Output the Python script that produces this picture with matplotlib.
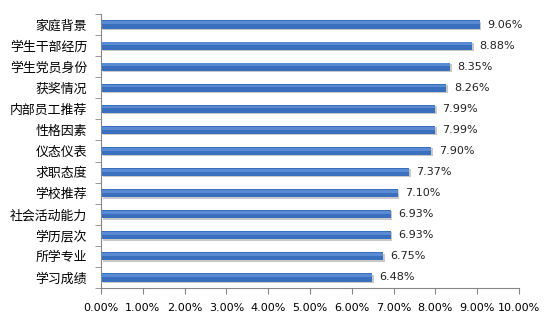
import matplotlib
matplotlib.use("Agg")
import matplotlib.pyplot as plt
from matplotlib.ticker import FuncFormatter

plt.rcParams['font.family'] = ['Noto Sans CJK SC', 'DejaVu Sans']

categories = ["家庭背景", "学生干部经历", "学生党员身份", "获奖情况", "内部员工推荐",
              "性格因素", "仪态仪表", "求职态度", "学校推荐", "社会活动能力",
              "学历层次", "所学专业", "学习成绩"]
values = [9.06, 8.88, 8.35, 8.26, 7.99, 7.99, 7.90, 7.37, 7.10, 6.93, 6.93, 6.75, 6.48]
xticks = [0, 1, 2, 3, 4, 5, 6, 7, 8, 9, 10]

fig = plt.figure(figsize=(5.54, 3.23), dpi=100)
ax = fig.add_axes([101 / 554, 1 - 288 / 323, (519 - 101) / 554, (288 - 14) / 323])

n = len(categories)
ypos = list(range(n))[::-1]
bar_h = 0.39

# soft drop shadow below each bar
ax.barh([y - 0.06 for y in ypos], values, height=bar_h, left=0.04,
        color="#c8c8c8", zorder=1)
ax.barh(ypos, values, height=bar_h, color="#3a6fbd", zorder=2)
# lighter upper band for a glossy look
ax.barh([y + bar_h * 0.22 for y in ypos], values, height=bar_h * 0.35,
        color="#5a8ad2", zorder=3, linewidth=0)

for y, v in zip(ypos, values):
    ax.text(v + 0.18, y, f"{v:.2f}%", va="center", ha="left",
            fontsize=8, color="#222222", family=["DejaVu Sans"])

ax.set_xlim(0, 10)
ax.set_ylim(-0.5, n - 0.5)
ax.set_xticks(xticks)
ax.xaxis.set_major_formatter(FuncFormatter(lambda x, p: f"{x:.2f}%"))
ax.set_yticks(ypos)
ax.set_yticklabels(categories, fontsize=9.3)
ax.set_yticks([i - 0.5 for i in range(n + 1)], minor=True)
ax.tick_params(axis="y", which="major", length=0, pad=10)
ax.tick_params(axis="y", which="minor", length=4, color="#868686")
ax.tick_params(axis="x", length=4, color="#868686", labelsize=8, pad=7)
for lab in ax.get_xticklabels():
    lab.set_family(["DejaVu Sans"])

for s in ["top", "right"]:
    ax.spines[s].set_visible(False)
for s in ["left", "bottom"]:
    ax.spines[s].set_color("#868686")

fig.savefig("out.png", dpi=100)
